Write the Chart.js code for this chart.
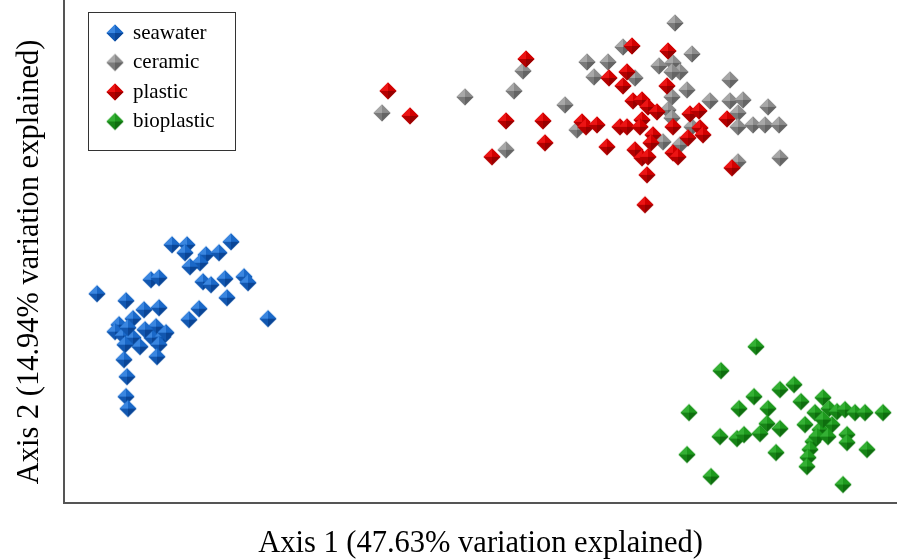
<!DOCTYPE html>
<html>
<head>
<meta charset="utf-8">
<script src="https://cdn.jsdelivr.net/npm/chart.js@4/dist/chart.umd.min.js"></script>
<style>
  html, body { margin: 0; padding: 0; background: #fff; }
  #wrap { width: 897px; height: 560px; }
</style>
</head>
<body>
<div id="wrap"><canvas id="pcoa"></canvas></div>
<script>
// PCoA sample coordinates per substrate (axis 1, axis 2)
const groups = ['seawater', 'ceramic', 'plastic', 'bioplastic'];
const axisTitles = ['Axis 1 (47.63% variation explained)', 'Axis 2 (14.94% variation explained)'];

const seawaterX = [-0.383, -0.354, -0.329, -0.321, -0.308, -0.293, -0.295, -0.274, -0.280, -0.290, -0.261, -0.249,
  -0.277, -0.269, -0.255, -0.236, -0.232, -0.253, -0.281, -0.291, -0.212, -0.336, -0.321, -0.347, -0.361, -0.365,
  -0.357, -0.347, -0.340, -0.355, -0.324, -0.328, -0.317, -0.314, -0.321, -0.323, -0.356, -0.353, -0.354, -0.352,
  -0.335, -0.352];
const seawaterY = [-0.014, -0.021, 0.000, 0.002, 0.035, 0.035, 0.027, 0.025, 0.017, 0.013, 0.027, 0.038,
  -0.002, -0.005, 0.001, 0.003, -0.003, -0.018, -0.029, -0.040, -0.039, -0.030, -0.028, -0.039, -0.045, -0.052,
  -0.056, -0.058, -0.067, -0.065, -0.047, -0.058, -0.057, -0.053, -0.065, -0.077, -0.080, -0.097, -0.117, -0.129,
  -0.050, -0.048];

const ceramicX = [-0.098, -0.015, 0.034, 0.043, 0.085, 0.026, 0.097, 0.107, 0.128, 0.114, 0.155, 0.143, 0.195,
  0.212, 0.179, 0.193, 0.200, 0.192, 0.207, 0.192, 0.230, 0.188, 0.192, 0.250, 0.250, 0.263, 0.258, 0.288,
  0.258, 0.273, 0.285, 0.299, 0.212, 0.183, 0.200, 0.258, 0.300];
const ceramicY = [0.167, 0.183, 0.189, 0.209, 0.175, 0.130, 0.150, 0.218, 0.218, 0.203, 0.202, 0.233, 0.257,
  0.226, 0.214, 0.217, 0.208, 0.208, 0.190, 0.183, 0.179, 0.170, 0.162, 0.200, 0.179, 0.180, 0.167, 0.173,
  0.153, 0.155, 0.155, 0.155, 0.153, 0.138, 0.135, 0.118, 0.122];

const plasticX = [-0.092, -0.070, 0.046, 0.026, 0.063, 0.065, 0.012, 0.102, 0.106, 0.117, 0.127, 0.140, 0.147,
  0.152, 0.129, 0.147, 0.143, 0.188, 0.187, 0.153, 0.162, 0.168, 0.177, 0.210, 0.219, 0.247, 0.162, 0.160,
  0.193, 0.220, 0.223, 0.208, 0.173, 0.171, 0.155, 0.162, 0.168, 0.193, 0.198, 0.167, 0.252, 0.165];
const plasticY = [0.189, 0.164, 0.221, 0.159, 0.159, 0.137, 0.123, 0.158, 0.153, 0.155, 0.133, 0.153, 0.153,
  0.234, 0.202, 0.208, 0.194, 0.229, 0.194, 0.179, 0.180, 0.173, 0.168, 0.166, 0.169, 0.161, 0.160, 0.153,
  0.153, 0.152, 0.145, 0.142, 0.145, 0.137, 0.130, 0.122, 0.123, 0.127, 0.123, 0.105, 0.112, 0.075];

const bioplasticX = [0.276, 0.241, 0.209, 0.207, 0.231, 0.240, 0.259, 0.274, 0.288, 0.257, 0.264, 0.280, 0.287,
  0.300, 0.296, 0.300, 0.314, 0.321, 0.343, 0.335, 0.349, 0.357, 0.365, 0.375, 0.385, 0.403, 0.325, 0.340,
  0.352, 0.343, 0.367, 0.367, 0.333, 0.330, 0.328, 0.327, 0.337, 0.387, 0.363, 0.348];
const bioplasticY = [-0.067, -0.091, -0.133, -0.175, -0.197, -0.157, -0.129, -0.117, -0.129, -0.159, -0.155,
  -0.154, -0.144, -0.149, -0.173, -0.110, -0.105, -0.122, -0.118, -0.133, -0.129, -0.132, -0.130, -0.133,
  -0.133, -0.133, -0.145, -0.150, -0.145, -0.140, -0.155, -0.163, -0.162, -0.170, -0.178, -0.187, -0.157,
  -0.170, -0.205, -0.157];

// facet shades: top-left, top-right, bottom-right, bottom-left
const shades = {
  seawater:   ['#3a86e0', '#1a68c8', '#0a4596', '#1257b0'],
  ceramic:    ['#a8a8a8', '#8c8c8c', '#646464', '#7a7a7a'],
  plastic:    ['#ec1414', '#d20000', '#980000', '#b40000'],
  bioplastic: ['#34b034', '#1e9a1e', '#0e6e0e', '#168416']
};

// plastic sits on top of the ceramic cloud where they overlap
const drawOrder = { seawater: 1, ceramic: 1, plastic: 0, bioplastic: 1 };

const serif = '"Liberation Serif", "Times New Roman", serif';

// little pyramid-shaped diamond used as the point style
function pyramid(cols) {
  const r = 8.5, s = 20, m = s / 2;
  const cv = document.createElement('canvas');
  cv.width = s; cv.height = s;
  const g = cv.getContext('2d');
  g.beginPath();
  g.moveTo(m - r, m); g.lineTo(m, m - r); g.lineTo(m + r, m); g.lineTo(m, m + r);
  g.closePath();
  g.fillStyle = cols[1];
  g.fill();
  const pts = [[m - r, m], [m, m - r], [m + r, m], [m, m + r]];
  for (let i = 0; i < 4; i++) {
    const a = pts[i], b = pts[(i + 1) % 4];
    g.beginPath();
    g.moveTo(m, m); g.lineTo(a[0], a[1]); g.lineTo(b[0], b[1]);
    g.closePath();
    g.fillStyle = cols[i];
    g.fill();
  }
  return cv;
}

const markers = {};
groups.forEach(k => { markers[k] = pyramid(shades[k]); });

function pts(xs, ys) {
  return xs.map((x, i) => ({ x: x, y: ys[i] }));
}

const series = {
  seawater: pts(seawaterX, seawaterY),
  ceramic: pts(ceramicX, ceramicY),
  plastic: pts(plasticX, plasticY),
  bioplastic: pts(bioplasticX, bioplasticY)
};

// boxed legend in the upper left corner of the plot
const boxLegend = {
  id: 'boxLegend',
  afterDraw(chart) {
    const ctx = chart.ctx;
    const x0 = 88.5, y0 = 12.5, w = 147, h = 138;
    ctx.save();
    ctx.fillStyle = '#fff';
    ctx.fillRect(x0, y0, w, h);
    ctx.strokeStyle = '#333';
    ctx.lineWidth = 1;
    ctx.strokeRect(x0, y0, w, h);
    ctx.font = '21px ' + serif;
    ctx.fillStyle = '#000';
    ctx.textBaseline = 'middle';
    chart.data.datasets.forEach((ds, i) => {
      const cy = 33 + i * 29.5;
      const img = markers[ds.label];
      ctx.drawImage(img, 115 - img.width / 2, cy - img.height / 2);
      ctx.fillText(ds.label, 133, cy);
    });
    ctx.restore();
  }
};

// vertical axis title, sits a little below the middle of the axis
const yTitle = {
  id: 'yTitle',
  afterDraw(chart) {
    const ctx = chart.ctx;
    ctx.save();
    ctx.translate(30, 262);
    ctx.rotate(-Math.PI / 2);
    ctx.font = '30.5px ' + serif;
    ctx.fillStyle = '#000';
    ctx.textAlign = 'center';
    ctx.textBaseline = 'middle';
    ctx.fillText(axisTitles[1], 0, 0);
    ctx.restore();
  }
};

new Chart(document.getElementById('pcoa'), {
  type: 'scatter',
  data: {
    datasets: groups.map(k => ({
      label: k,
      data: series[k],
      order: drawOrder[k],
      pointStyle: markers[k],
      pointRadius: 8,
      pointHoverRadius: 8,
      clip: false
    }))
  },
  options: {
    responsive: true,
    maintainAspectRatio: false,
    animation: false,
    layout: { autoPadding: false, padding: { top: 0, right: 0, left: 64, bottom: 1 } },
    plugins: {
      legend: { display: false },
      tooltip: { enabled: false }
    },
    scales: {
      x: {
        type: 'linear',
        min: -0.416,
        max: 0.417,
        grid: { display: false, drawTicks: false },
        border: { display: true, color: '#555', width: 2 },
        ticks: { display: false },
        title: { display: true, text: axisTitles[0], color: '#000', font: { family: serif, size: 30.5, lineHeight: 1 }, padding: { top: 26, bottom: 0 } }
      },
      y: {
        type: 'linear',
        min: -0.223,
        max: 0.28,
        grid: { display: false, drawTicks: false },
        border: { display: true, color: '#555', width: 2 },
        ticks: { display: false },
        title: { display: false }
      }
    }
  },
  plugins: [boxLegend, yTitle]
});
</script>
</body>
</html>
